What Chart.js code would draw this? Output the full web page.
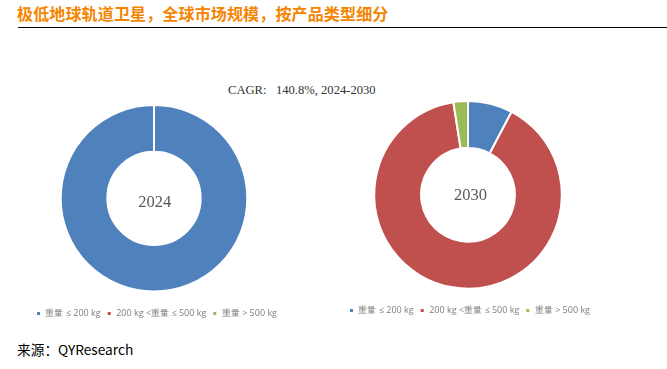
<!DOCTYPE html>
<html lang="zh">
<head>
    <meta charset="UTF-8">
    <title>极低地球轨道卫星</title>
    <style>
        html, body {
            margin: 0;
            padding: 0;
            background: #fff;
            width: 667px;
            height: 369px;
            overflow: hidden;
        }
        .title {
            position: absolute;
            left: 17px;
            top: 2px;
            font: bold 16px "Noto Sans CJK SC", sans-serif;
            letter-spacing: 0.15px;
            line-height: 22px;
            color: #f58400;
            white-space: nowrap;
        }
        .rule {
            position: absolute;
            left: 18px;
            top: 27px;
            width: 649px;
            height: 1px;
            background: #000;
        }
        .cagr {
            position: absolute;
            left: 228px;
            top: 82px;
            font: 12.6px "Liberation Serif", serif;
            line-height: 16px;
            color: #333;
            white-space: pre;
        }
        .source {
            position: absolute;
            left: 17px;
            top: 340px;
            font: 13.7px "Noto Sans CJK SC", sans-serif;
            line-height: 18px;
            color: #000;
        }
        canvas {
            position: absolute;
        }
    </style>
    <script src="https://cdn.jsdelivr.net/npm/chart.js"></script>
</head>
<body>
    <div class="title">极低地球轨道卫星，全球市场规模，按产品类型细分</div>
    <div class="rule"></div>
    <div class="cagr">CAGR:   140.8%, 2024-2030</div>
    <div class="source">来源：QYResearch</div>
    <canvas id="chart2024" style="left:25px;top:104px"></canvas>
    <canvas id="chart2030" style="left:340px;top:100px"></canvas>

    <script>
        const categories = ['重量 ≤ 200 kg', '200 kg <重量 ≤ 500 kg', '重量 > 500 kg'];
        const colors = ['#4f81bd', '#c0504d', '#9bbb59'];
        const values2024 = [100, 0, 0];
        const values2030 = [7.7, 89.8, 2.5];

        // year label in the hole
        const centerLabel = {
            id: 'centerLabel',
            afterDraw(chart, args, opts) {
                const a = chart.chartArea;
                const ctx = chart.ctx;
                ctx.save();
                ctx.font = '16.5px "Liberation Serif", serif';
                ctx.fillStyle = '#595959';
                ctx.textAlign = 'center';
                ctx.textBaseline = 'middle';
                ctx.fillText(opts.text, (a.left + a.right) / 2 + opts.dx, (a.top + a.bottom) / 2 + opts.dy);
                ctx.restore();
            }
        };

        function drawDonut(id, values, year, w, h, dx, dy) {
            const canvas = document.getElementById(id);
            canvas.width = w;
            canvas.height = h;
            new Chart(canvas.getContext('2d'), {
                type: 'doughnut',
                data: {
                    labels: categories,
                    datasets: [{
                        data: values,
                        backgroundColor: colors,
                        borderColor: '#fff',
                        borderWidth: 2
                    }]
                },
                options: {
                    responsive: false,
                    animation: false,
                    cutout: '50%',
                    plugins: {
                        tooltip: { enabled: false },
                        centerLabel: { text: year, dx: dx, dy: dy },
                        legend: {
                            position: 'bottom',
                            align: 'end',
                            // blank title only pushes the entries down from the ring
                            title: {
                                display: true,
                                text: ' ',
                                font: { size: 2 },
                                padding: { top: 0, bottom: 8 }
                            },
                            labels: {
                                boxWidth: 5,
                                boxHeight: 5,
                                padding: 6,
                                color: '#7f7f7f',
                                font: { size: 9, family: '"Open Sans", sans-serif' }
                            }
                        }
                    }
                },
                plugins: [centerLabel]
            });
        }

        drawDonut('chart2024', values2024, '2024', 258, 224, 0.7, 4);
        drawDonut('chart2030', values2030, '2030', 256, 225, 2.5, 1);
    </script>
</body>
</html>
